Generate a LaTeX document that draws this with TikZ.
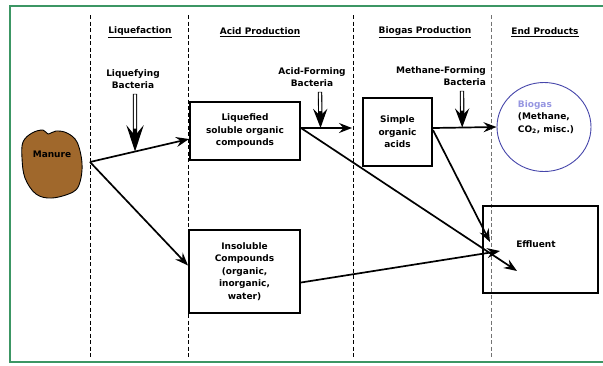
\documentclass[tikz,border=0pt]{standalone}
\usepackage{fontspec}
\setmainfont{DejaVu Sans}
\usetikzlibrary{arrows.meta,shapes.geometric}

\definecolor{framegreen}{RGB}{60,150,100}
\definecolor{manurebrown}{RGB}{160,104,44}
\definecolor{gasline}{RGB}{70,70,170}
\definecolor{gastext}{RGB}{150,150,225}

\begin{document}
\begin{tikzpicture}[x=1pt,y=-1pt,
  every node/.style={font=\bfseries\fontsize{9}{12.5}\selectfont,align=center,inner sep=1pt},
  box/.style={draw,line width=2pt},
  flow/.style={line width=1.7pt,-{Stealth[length=13pt,width=10pt,inset=4.5pt]}},
  bact/.style={line width=4.4pt,-{Stealth[length=19pt,width=14pt,inset=7pt]},
    postaction={draw=white,line width=2.2pt,shorten >=17pt,shorten <=0.5pt,-}},
  bigbact/.style={line width=4.4pt,-{Stealth[length=26pt,width=17pt,inset=10pt]},
    postaction={draw=white,line width=2.2pt,shorten >=23pt,shorten <=0.5pt,-}},
  phase/.style={dash pattern=on 4pt off 2.5pt,line width=0.7pt}]
            \useasboundingbox (0,0) rectangle (603,365);
            % frame and phase lines
            \draw[framegreen,line width=1.2pt] (606,6)--(10,6)--(10,362)--(606,362);
            \draw[phase] (90,15)--(90,358);
            \draw[phase] (188,15)--(188,358);
            \draw[phase] (353,15)--(353,358);
            \draw[phase,black!55] (491,15)--(491,358);
            \node (h1) at (140,32) {\underline{Liquefaction}};
            \node (h2) at (260,32) {\underline{Acid Production}};
            \node (h3) at (425,32) {\underline{Biogas Production}};
            \node (h4) at (545,32) {\underline{End Products}};
            % manure
            \filldraw[fill=manurebrown,line width=0.9pt] plot[smooth cycle,tension=0.6] coordinates
              {(23,142) (32,133) (43,130) (48,134) (56,131) (67,133) (77,142) (82,163) (80,182) (73,192) (52,198) (36,194) (25,178) (22,158)};
            \node (manure) at (52,154) {Manure};
            \coordinate (src) at (90,162);
            % boxes
            \node[box,minimum width=110pt,minimum height=58pt] (liq) at (245,131) {Liquefied\\soluble organic\\compounds};
            \node[box,minimum width=111pt,minimum height=83pt] (insol) at (244.5,271.5) {Insoluble\\Compounds\\(organic,\\inorganic,\\water)};
            \node[box,minimum width=69pt,minimum height=68pt] (simple) at (397.5,132) {Simple\\organic\\acids};
            \node[box,minimum width=115pt,minimum height=87pt] (effluent) at (540.5,249.5) {};
            \node (efftext) at (536,244) {Effluent};
            \node[ellipse,draw=gasline,line width=0.9pt,minimum width=94pt,minimum height=89pt] (biogas) at (544,127) {};
            \node[align=left] (gastext) at (546,117) {\textcolor{gastext}{Biogas}\\(Methane,\\CO\textsubscript{2}, misc.)};
            % bacteria
            \node (liqbac) at (133,79) {Liquefying\\Bacteria};
            \node (acidbac) at (312,77) {Acid-Forming\\Bacteria};
            \node[align=right] (methbac) at (441,76) {Methane-Forming\\Bacteria};
            \coordinate (eff1) at (517,271);
            \coordinate (eff2) at (490,242);
            \coordinate (eff3) at (500,251);
              \draw[flow] (src)--coordinate[pos=0.455] (liqhit) ([yshift=-8pt]liq.west);
              \draw[flow] (src)--([yshift=6pt]insol.west);
              \draw[flow,shorten >=10pt] ([yshift=3pt]liq.east)--coordinate[pos=0.32] (acidhit) ([yshift=4pt]simple.west);
              \draw[flow] ([yshift=4pt]simple.east)--coordinate[pos=0.46] (methhit) (biogas.west);
              \draw[flow] ([yshift=3pt]liq.east)--(eff1);
              \draw[flow] ([yshift=2pt]simple.east)--(eff2);
              \draw[flow] ([yshift=-11pt]insol.east)--(eff3);
              \draw[bigbact] ([xshift=2pt,yshift=-4pt]liqbac.south)--(liqhit);
              \draw[bact] ([xshift=8pt,yshift=-4pt]acidbac.south)--(acidhit);
              \draw[bact] ([xshift=21pt,yshift=-4pt]methbac.south)--(methhit);
            \end{tikzpicture}
\end{document}
